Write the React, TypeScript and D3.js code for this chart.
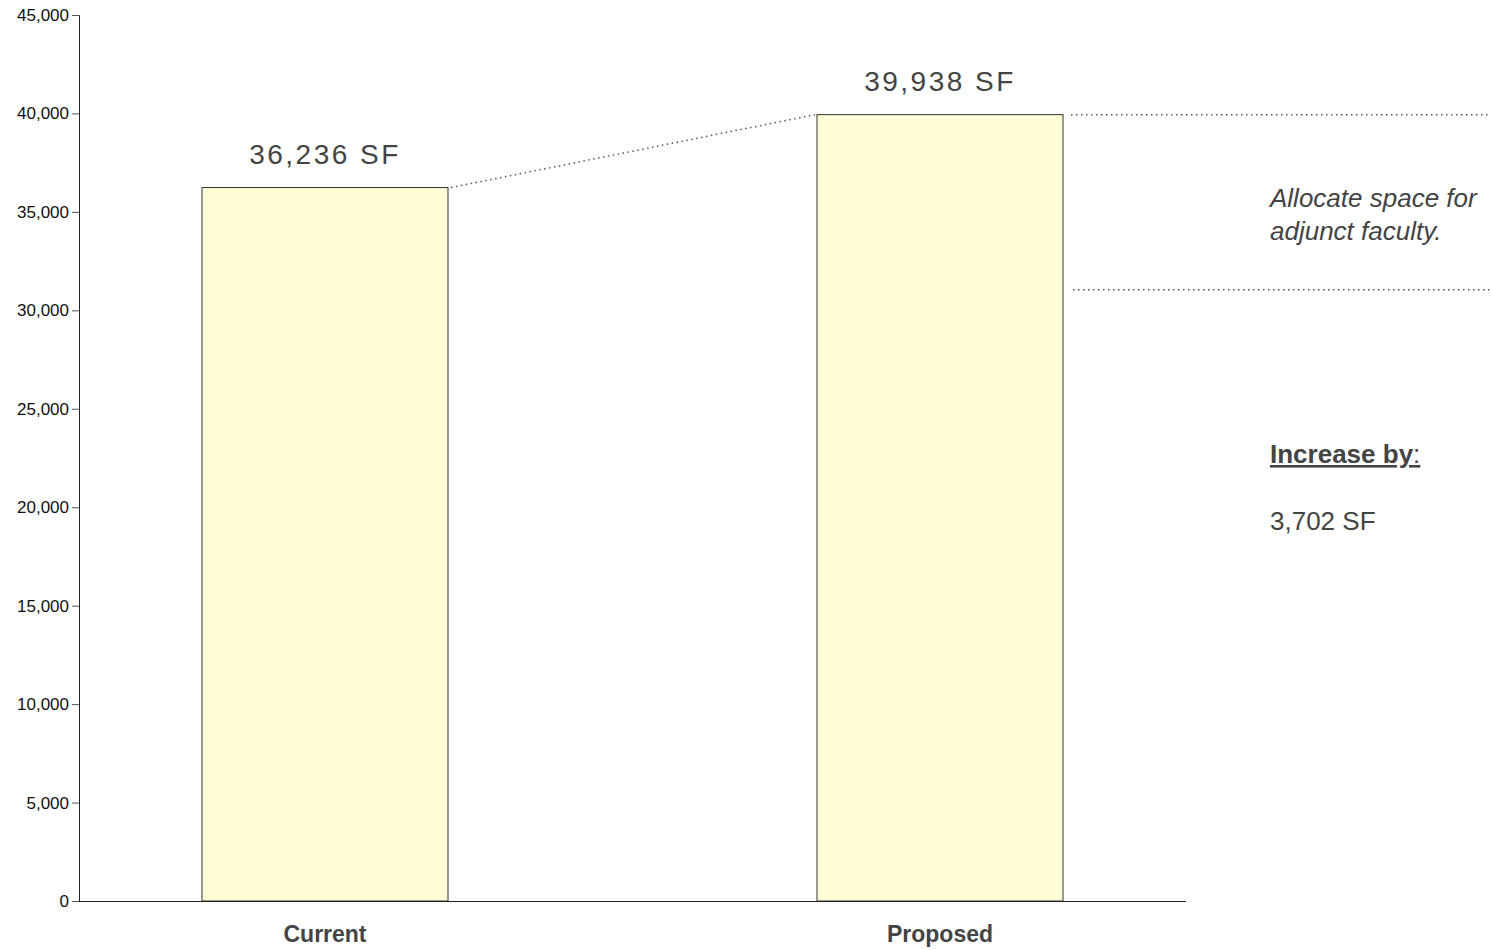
import React, { useEffect, useRef } from "react";
import * as d3 from "d3";

const categories = ["Current", "Proposed"];
const values = [36236, 39938];
const valueLabels = ["36,236 SF", "39,938 SF"];
const yTicks = [0, 5000, 10000, 15000, 20000, 25000, 30000, 35000, 40000, 45000];
const bracketLow = 31050;
const noteLines = ["Allocate space for", "adjunct faculty."];
const increaseLabel = "Increase by";
const increaseValue = "3,702 SF";

export default function App() {
  const ref = useRef<SVGSVGElement>(null);
  useEffect(() => {
    const svg = d3.select(ref.current);
    svg.selectAll("*").remove();
    const font = "'Liberation Sans', Arial, Helvetica, sans-serif";
    const x = d3.scaleBand().domain(categories).range([79, 1186]).paddingInner(0.6).paddingOuter(0.2);
    const y = d3.scaleLinear().domain([0, 45000]).range([901, 15]);

    // bars
    svg.append("g").selectAll("rect").data(values).join("rect")
      .attr("x", (_, i) => x(categories[i])!)
      .attr("y", (d) => y(d))
      .attr("width", x.bandwidth())
      .attr("height", (d) => y(0) - y(d))
      .attr("fill", "#FFFED6")
      .attr("stroke", "#333")
      .attr("stroke-width", 1);

    // y axis
    const ya = svg.append("g").attr("transform", "translate(79,0)")
      .call(d3.axisLeft(y).tickValues(yTicks).tickSize(7).tickPadding(3).tickFormat(d3.format(",")));
    ya.select(".domain").attr("stroke", "#222");
    ya.selectAll(".tick line").attr("stroke", "#555");
    ya.selectAll("text").attr("font-family", font).attr("font-size", 17).attr("fill", "#111");

    // x axis
    const xa = svg.append("g").attr("transform", `translate(0,${y(0)})`)
      .call(d3.axisBottom(x).tickSize(0).tickPadding(25));
    xa.select(".domain").attr("stroke", "#222").attr("d", `M79,0.5H1186`);
    xa.selectAll("text").attr("font-family", font).attr("font-size", 23).attr("font-weight", "bold").attr("fill", "#444");

    // value labels
    svg.append("g").selectAll("text").data(values).join("text")
      .attr("x", (_, i) => x(categories[i])! + x.bandwidth() / 2)
      .attr("y", (d) => y(d) - 23.5)
      .attr("text-anchor", "middle")
      .attr("font-family", font).attr("font-size", 28).attr("letter-spacing", 2.5)
      .attr("fill", "#444")
      .text((_, i) => valueLabels[i]);

    const dotted = (x1: number, y1: number, x2: number, y2: number) =>
      svg.append("line").attr("x1", x1).attr("y1", y1).attr("x2", x2).attr("y2", y2)
        .attr("stroke", "#555").attr("stroke-width", 1.5).attr("stroke-dasharray", "1.5,3.5");

    const x0r = x(categories[0])! + x.bandwidth();
    const x1l = x(categories[1])!;
    const x1r = x1l + x.bandwidth();
    dotted(x0r + 3, y(values[0]), x1l - 2, y(values[1]));
    dotted(x1r + 8, y(values[1]), 1490, y(values[1]));
    dotted(x1r + 10, y(bracketLow), 1490, y(bracketLow));

    // notes
    const note = svg.append("text").attr("font-family", font).attr("font-size", 26)
      .attr("font-style", "italic").attr("fill", "#444");
    noteLines.forEach((l, i) => note.append("tspan").attr("x", 1270).attr("y", 207 + i * 33).text(l));

    const inc = svg.append("text").attr("x", 1270).attr("y", 463).attr("font-family", font)
      .attr("font-size", 26).attr("fill", "#444");
    inc.append("tspan").attr("font-weight", "bold").attr("text-decoration", "underline").text(increaseLabel);
    inc.append("tspan").attr("text-decoration", "underline").text(":");

    svg.append("text").attr("x", 1270).attr("y", 530).attr("font-family", font)
      .attr("font-size", 26).attr("fill", "#444").text(increaseValue);
  }, []);
  return (
    <svg ref={ref} width={1492} height={950}
      style={{ position: "absolute", left: 0, top: 0, background: "#fff" }} />
  );
}
